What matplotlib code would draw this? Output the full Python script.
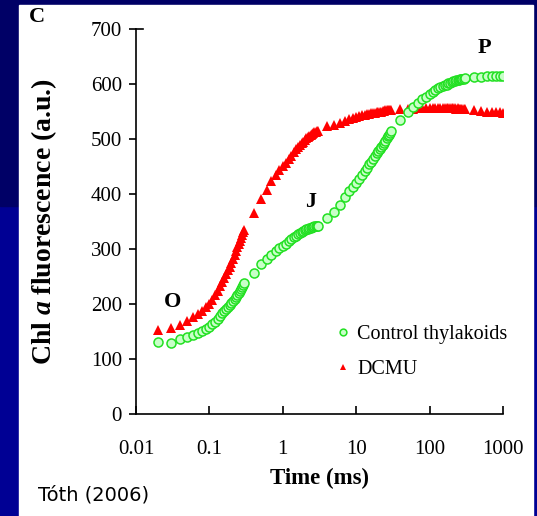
import matplotlib
matplotlib.use('Agg')
import matplotlib.pyplot as plt
from matplotlib.patches import Rectangle

# time points (ms)
time_ms = [0.02,0.03,0.04,0.05,0.06,0.07,0.08,0.09,0.10,0.11,0.12,0.13,0.14,0.15,0.16,
           0.17,0.18,0.19,0.20,0.21,0.22,0.23,0.24,0.25,0.26,0.27,0.28,0.29,0.30,
           0.4,0.5,0.6,0.7,0.8,0.9,1.0,1.1,1.2,1.3,1.4,1.5,1.6,1.7,1.8,1.9,2.0,
           2.1,2.2,2.3,2.4,2.5,2.6,2.7,2.8,2.9,3.0,
           4,5,6,7,8,9,10,11,12,13,14,15,16,17,18,19,20,21,22,23,24,25,26,27,28,29,30,
           40,50,60,70,80,90,100,110,120,130,140,150,160,170,180,190,200,210,220,230,
           240,250,260,270,280,290,300,
           400,500,600,700,800,900,1000]

control = [131,129,137,140,144,147,151,155,159,163,167,172,178,183,187,191,195,199,202,206,
           209,213,216,220,223,227,231,235,238,
           256,272,282,290,297,302,306,310,314,318,321,324,327,329,331,333,335,336,337,338,
           339,340,340,341,341,342,342,
           356,367,380,395,405,413,420,428,435,442,448,454,459,464,469,474,478,481,485,489,
           493,497,501,505,508,511,514,
           534,549,558,566,572,577,581,585,589,592,594,596,598,599,601,602,604,605,606,607,
           608,608,609,609,610,610,611,
           613,613,614,615,615,615,615]

dcmu = [153,156,162,170,176,182,188,194,200,208,216,224,232,240,247,254,261,268,275,282,
        289,296,303,309,315,320,325,330,335,
        366,390,408,423,434,443,450,457,464,470,476,481,485,489,492,495,498,501,503,505,
        507,509,511,512,513,514,515,
        523,526,530,533,536,538,540,541,543,544,545,546,547,547,548,549,549,550,550,551,
        551,552,552,552,553,553,553,
        554,555,555,556,556,557,556,556,557,556,556,556,556,557,556,556,556,556,556,555,
        556,555,555,555,555,554,554,
        552,551,550,549,549,549,548]

xticks = [0.01,0.1,1,10,100,1000]
xticklabels = ['0.01','0.1','1','10','100','1000']
yticks = [0,100,200,300,400,500,600,700]

serif = ['Liberation Serif','DejaVu Serif']
plt.rcParams['mathtext.fontset'] = 'custom'
plt.rcParams['mathtext.bfit'] = 'Liberation Serif:italic:bold'

fig = plt.figure(figsize=(5.37,5.16), dpi=100)
fig.patch.set_facecolor('#000094')
# slide background: darker top band, white picture area
fig.patches.append(Rectangle((0,0.6),1,0.4,transform=fig.transFigure,color='#000066',zorder=-2))
fig.patches.append(Rectangle((19/537,0),(533-19)/537,1-5/516,transform=fig.transFigure,
                             color='white',zorder=-1))

ax = fig.add_axes([136/537, 1-414/516, (503-136)/537, (414-29)/516])
ax.set_facecolor('none')
ax.set_xscale('log')
ax.set_xlim(0.01,1000)
ax.set_ylim(0,700)

ax.plot(time_ms, dcmu, linestyle='none', marker='^', markersize=6.5,
        color='#ff0000', markeredgewidth=0, label='DCMU', zorder=3)
ax.plot(time_ms, control, linestyle='none', marker='o', markersize=6.5,
        markerfacecolor='#c8ffc8', markeredgecolor='#22e022', markeredgewidth=1.1,
        label='Control thylakoids', zorder=4)

for s in ['top','right']:
    ax.spines[s].set_visible(False)
for s in ['left','bottom']:
    ax.spines[s].set_linewidth(1.2)

ax.set_xticks(xticks)
ax.set_xticklabels(xticklabels)
ax.minorticks_off()
ax.set_yticks(yticks)
ax.tick_params(axis='x', direction='in', length=6, width=1.2, pad=19)
ax.tick_params(axis='y', direction='out', length=5, width=1.2, pad=5)
for lab in ax.get_xticklabels() + ax.get_yticklabels():
    lab.set_family(serif)
    lab.set_fontsize(15)
# the top tick of the reference points inward
ax.plot([0, 0.02], [1, 1], transform=ax.transAxes, color='black', lw=1.2, clip_on=False)

ax.set_xlabel('Time (ms)', family=serif, fontsize=16.5, fontweight='bold', labelpad=6)
ax.set_ylabel(r'Chl $\mathbfit{a}$ fluorescence (a.u.)', family=serif, fontsize=20,
              fontweight='bold', labelpad=23)

ax.text(0.031, 204, 'O', family=serif, fontsize=16, fontweight='bold', ha='center', va='center')
ax.text(2.42, 385, 'J', family=serif, fontsize=16, fontweight='bold', ha='center', va='center')
ax.text(551, 665, 'P', family=serif, fontsize=16, fontweight='bold', ha='center', va='center')

h, l = ax.get_legend_handles_labels()
leg = ax.legend(h[::-1], l[::-1], loc='upper left', bbox_to_anchor=(335/537, 1-325/516),
                bbox_transform=fig.transFigure, frameon=False, borderpad=0, borderaxespad=0,
                handlelength=0.8, handletextpad=0.3, labelspacing=0.8, markerscale=0.75,
                prop={'family': serif, 'size': 14.5})

fig.text(37/537, 1-17/516, 'C', family=serif, fontsize=16, fontweight='bold',
         ha='center', va='center')
fig.text(38/537, 1-495/516, 'Tóth (2006)', family='DejaVu Sans', fontsize=14,
         ha='left', va='center')

fig.savefig('out.png', dpi=100, facecolor=fig.get_facecolor())
